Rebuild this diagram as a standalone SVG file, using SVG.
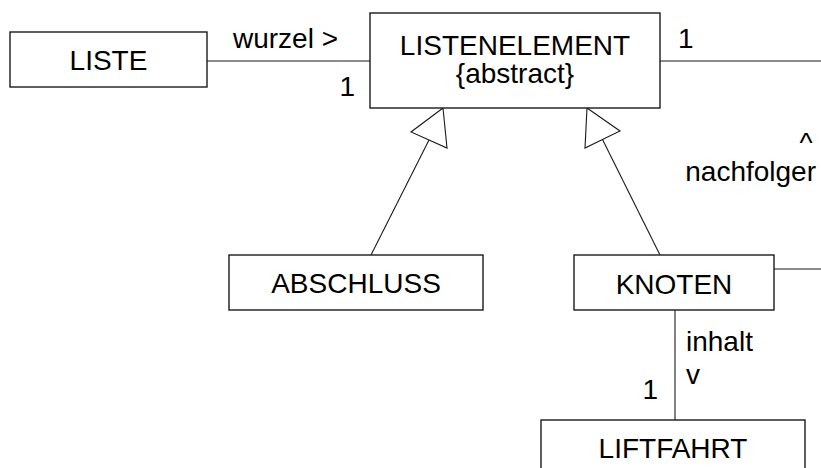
<svg xmlns="http://www.w3.org/2000/svg" width="821" height="468" viewBox="0 0 821 468">
  <style>
    .box { fill: #ffffff; stroke: #1a1a1a; stroke-width: 1.4; }
    .line { fill: none; stroke: #1a1a1a; stroke-width: 1.1; }
    .head { fill: #ffffff; stroke: #1a1a1a; stroke-width: 1.1; stroke-linejoin: miter; }
    text { font-family: "Liberation Sans", Arial, sans-serif; font-size: 28px; fill: #000000; }
    .c { text-anchor: middle; }
    .e { text-anchor: end; }
  </style>
  <rect width="821" height="468" fill="#ffffff"/>

  <!-- connectors -->
  <g id="connectors">
    <!-- LISTE to LISTENELEMENT (wurzel) -->
    <line class="line" x1="207" y1="61" x2="370" y2="61"/>
    <text x="233" y="48">wurzel &gt;</text>
    <text x="355" y="96" class="e">1</text>

    <!-- LISTENELEMENT to KNOTEN (nachfolger), leaves the drawing on the right -->
    <line class="line" x1="660" y1="61" x2="821" y2="61"/>
    <line class="line" x1="774" y1="269" x2="821" y2="269"/>
    <text x="678" y="48">1</text>
    <text x="806" y="152" class="c">^</text>
    <text x="816" y="181" class="e">nachfolger</text>

    <!-- generalisation ABSCHLUSS -> LISTENELEMENT -->
    <line class="line" x1="371" y1="255" x2="429" y2="140"/>
    <polygon class="head" points="443,108 411,132 447,148"/>

    <!-- generalisation KNOTEN -> LISTENELEMENT -->
    <line class="line" x1="660" y1="255" x2="602.5" y2="139.5"/>
    <polygon class="head" points="587,108 620,131 585,148"/>

    <!-- KNOTEN to LIFTFAHRT (inhalt) -->
    <line class="line" x1="675" y1="310" x2="675" y2="420"/>
    <text x="686" y="351">inhalt</text>
    <text x="686" y="384">v</text>
    <text x="658" y="399" class="e">1</text>
  </g>

  <g id="liste">
    <rect class="box" x="10" y="32" width="197" height="55"/>
    <text x="108.5" y="70" class="c">LISTE</text>
  </g>

  <g id="listenelement">
    <rect class="box" x="370" y="13" width="290" height="95"/>
    <text x="515" y="55" class="c">LISTENELEMENT</text>
    <text x="515" y="83" class="c">{abstract}</text>
  </g>

  <g id="abschluss">
    <rect class="box" x="229" y="255" width="254" height="55"/>
    <text x="356" y="293" class="c">ABSCHLUSS</text>
  </g>

  <g id="knoten">
    <rect class="box" x="574" y="255" width="200" height="55"/>
    <text x="674" y="294" class="c">KNOTEN</text>
  </g>

  <g id="liftfahrt">
    <rect class="box" x="541" y="420" width="264" height="60"/>
    <text x="673" y="458" class="c">LIFTFAHRT</text>
  </g>
</svg>
